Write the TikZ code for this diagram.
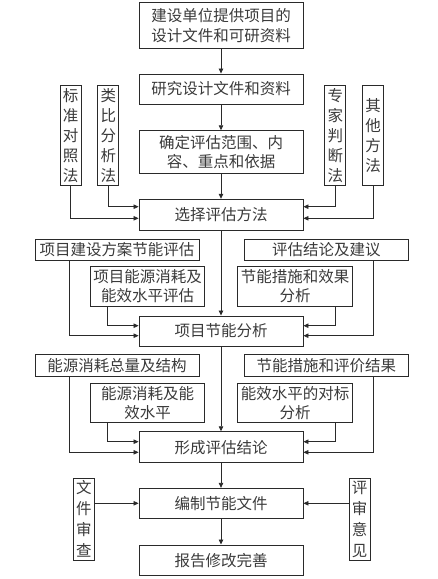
\documentclass[tikz,border=0pt]{standalone}
\usepackage{fontspec}
\newfontfamily\cjk{Noto Sans CJK SC}
\usetikzlibrary{arrows.meta}
\definecolor{ink}{HTML}{3A3A3A}
\definecolor{linec}{HTML}{2A2A2A}
\tikzset{
  box/.style={draw=linec, line width=0.9pt, inner sep=0pt, align=center, text=ink,
    font=\cjk\fontsize{15.5}{19.5}\selectfont},
  mainbox/.style={box, minimum width=164pt},
  vbox/.style={box, minimum width=21pt, font=\cjk\fontsize{15.5}{20}\selectfont},
  arr/.style={draw=linec, line width=0.8pt, -{Triangle[length=5pt,width=4.5pt]}},
}
\begin{document}
\begin{tikzpicture}[x=1pt,y=-1pt]
\useasboundingbox (0,0) rectangle (437,579);
% main column
\node[mainbox, minimum height=45.6pt] (b1) at (221,25.5) {建设单位提供项目的\\设计文件和可研资料};
\node[mainbox, minimum height=30pt] (b2) at (221,89) {研究设计文件和资料};
\node[mainbox, minimum height=42.6pt] (b3) at (221,152) {确定评估范围、内\\容、重点和依据};
\node[mainbox, minimum height=30.7pt] (b4) at (221,214.6) {选择评估方法};
\node[mainbox, minimum height=30pt] (b5) at (221,331) {项目节能分析};
\node[mainbox, minimum height=31pt] (b6) at (221,447.2) {形成评估结论};
\node[mainbox, minimum height=30pt] (b7) at (221,503.3) {编制节能文件};
\node[mainbox, minimum height=30.7pt] (b8) at (221,560.3) {报告修改完善};
% vertical boxes
\node[vbox, minimum height=100.7pt] (v1) at (70.5,135.3) {标\\准\\对\\照\\法};
\node[vbox, minimum height=100.7pt] (v2) at (108.3,135.3) {类\\比\\分\\析\\法};
\node[vbox, minimum height=100.7pt] (v3) at (335.3,135.3) {专\\家\\判\\断\\法};
\node[vbox, minimum height=100.7pt] (v4) at (373,135.3) {其\\他\\方\\法};
\node[vbox, minimum height=81.7pt, font=\cjk\fontsize{15.5}{21}\selectfont] (v5) at (83.8,519.2) {文\\件\\审\\查};
\node[vbox, minimum height=81.7pt, font=\cjk\fontsize{15.5}{21}\selectfont] (v6) at (359.7,519.2) {评\\审\\意\\见};
% side boxes
\node[box, minimum width=164pt, minimum height=21pt] (s1) at (117,249.8) {项目建设方案节能评估};
\node[box, minimum width=164pt, minimum height=21pt] (s2) at (326.3,249.8) {评估结论及建议};
\node[box, minimum width=113.6pt, minimum height=39.3pt] (s3) at (147.5,286.3) {项目能源消耗及\\能效水平评估};
\node[box, minimum width=115pt, minimum height=39.3pt] (s4) at (295.2,286.3) {节能措施和效果\\分析};
\node[box, minimum width=164pt, minimum height=21.7pt] (s5) at (117,365.2) {能源消耗总量及结构};
\node[box, minimum width=164pt, minimum height=21.7pt] (s6) at (326.3,365.2) {节能措施和评价结果};
\node[box, minimum width=113.6pt, minimum height=39.4pt] (s7) at (147.5,403) {能源消耗及能\\效水平};
\node[box, minimum width=115pt, minimum height=39.4pt] (s8) at (295.2,403) {能效水平的对标\\分析};
% main arrows
\draw[arr] (b1) -- (b2);
\draw[arr] (b2) -- (b3);
\draw[arr] (b3) -- (b4);
\draw[arr] (b4) -- (b5);
\draw[arr] (b5) -- (b6);
\draw[arr] (b6) -- (b7);
\draw[arr] (b7) -- (b8);
% methods into b4
\draw[arr] (v1.south) |- ([yshift=-3.7pt]b4.west);
\draw[arr] (v2.south) |- ([yshift=7.9pt]b4.west);
\draw[arr] (v3.south) |- ([yshift=7.9pt]b4.east);
\draw[arr] (v4.south) |- ([yshift=-3.7pt]b4.east);
% into b5
\draw[arr] ([xshift=35.3pt]s1.south west) |- ([yshift=-4.7pt]b5.west);
\draw[arr] ([xshift=17.6pt]s3.south west) |- ([yshift=5.3pt]b5.west);
\draw[arr] ([xshift=-17.4pt]s4.south east) |- ([yshift=5.3pt]b5.east);
\draw[arr] ([xshift=-35.6pt]s2.south east) |- ([yshift=-4.7pt]b5.east);
% into b6
\draw[arr] ([xshift=35.3pt]s5.south west) |- ([yshift=-5.1pt]b6.west);
\draw[arr] ([xshift=17.6pt]s7.south west) |- ([yshift=5.5pt]b6.west);
\draw[arr] ([xshift=-17.4pt]s8.south east) |- ([yshift=5.5pt]b6.east);
\draw[arr] ([xshift=-35.6pt]s6.south east) |- ([yshift=-5.1pt]b6.east);
% into b7
\draw[arr] (v5.east |- b7.west) -- (b7.west);
\draw[arr] (v6.west |- b7.east) -- (b7.east);
\end{tikzpicture}
\end{document}
